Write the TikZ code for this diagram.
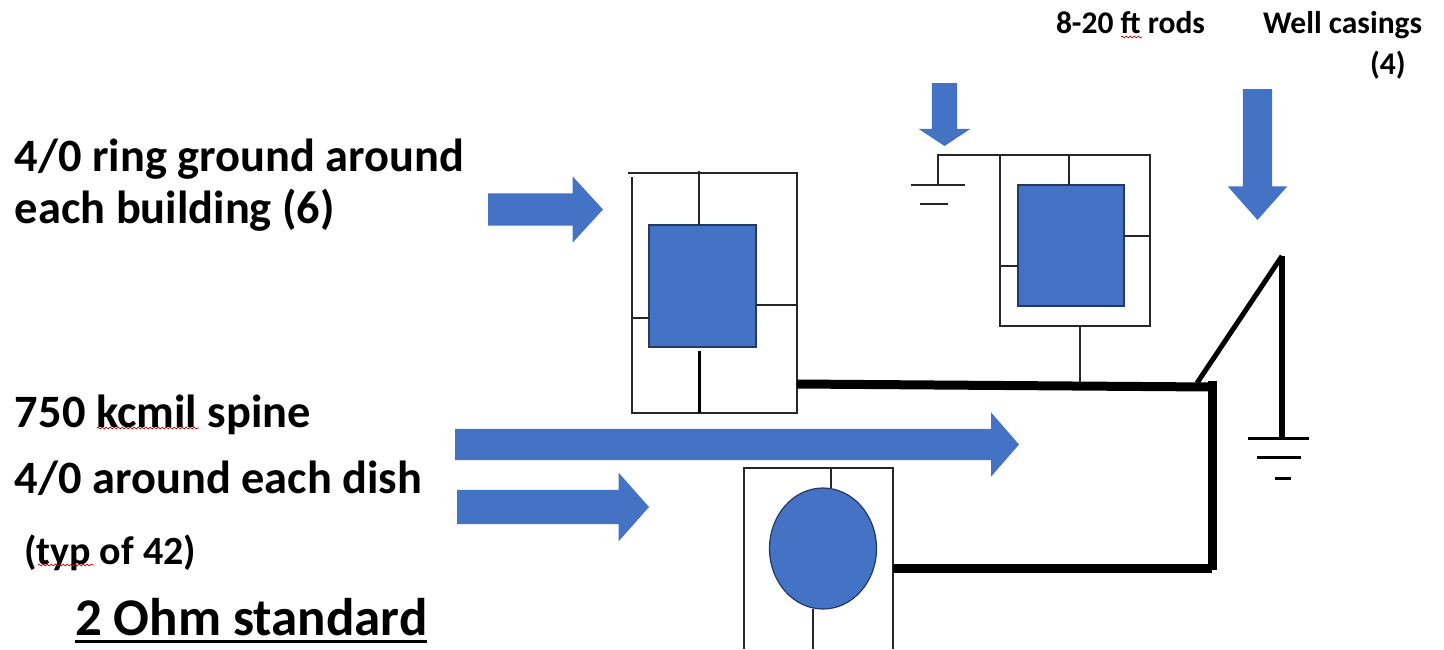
\documentclass[tikz,border=0pt]{standalone}
\usepackage{fontspec}
\setmainfont{Carlito}
\usepackage{xcolor}
\usetikzlibrary{shapes.arrows,shapes.geometric,decorations.pathmorphing}
\definecolor{dishblue}{HTML}{4472C4}
\definecolor{edgeblue}{HTML}{2F528F}

\begin{document}
\begin{tikzpicture}[x=1pt, y=-1pt]
	\tikzstyle{every node} = [inner sep=0pt, outer sep=0pt]
	\tikzstyle{bigtext} = [anchor=base west, font=\bfseries\fontsize{46.4}{50}\selectfont]
	\tikzstyle{typtext} = [anchor=base west, font=\bfseries\fontsize{40}{44}\selectfont]
	\tikzstyle{ohmtext} = [anchor=base west, font=\bfseries\fontsize{53}{58}\selectfont]
	\tikzstyle{toptext} = [anchor=base west, font=\bfseries\fontsize{31.5}{35}\selectfont]
	\tikzstyle{boxframe} = [draw=black!85, line width=1.2pt, shape=rectangle]
	\tikzstyle{building} = [draw=edgeblue!70!black, line width=1.2pt, fill=dishblue, shape=rectangle]
	\tikzstyle{wire} = [black!85, line width=1.2pt]
	\tikzstyle{bus} = [black, line width=9pt]
	\tikzstyle{pointer} = [shape=single arrow, fill=dishblue, single arrow head indent=0pt, anchor=tail]
	\tikzstyle{squiggle} = [red!75!black, line width=0.7pt, decorate, decoration={snake, amplitude=0.9pt, segment length=4pt}]
	\useasboundingbox (0,0) rectangle (1444,649);

	% texts
	\node[bigtext] (ring) at (15,171) {4/0 ring ground around};
	\node[bigtext] (each) at (15,223) {each building (6)};
	\node[bigtext] (spine) at (15,427) {750 kcmil spine};
	\node[bigtext] (around) at (15,493) {4/0 around each dish};
	\node[typtext] (typ) at (24,564) {(typ of 42)};
	\node[ohmtext] (ohm) at (75,635) {2 Ohm standard};
	\node[toptext] (rods) at (1056,33) {8-20 ft rods};
	\node[toptext] (well) at (1263,33) {Well casings};
	\node[toptext] (four) at (1370,74) {(4)};

	% spell check marks and underline
	\draw[squiggle] (97,428) -- (199,428);
	\draw[squiggle] (38,565) -- (94,565);
	\draw[squiggle] (1121,37) -- (1142,37);
	\draw[black, line width=3pt] ([yshift=-6pt]ohm.base west) -- ([yshift=-6pt]ohm.base east);

	% blue arrows
	\node[pointer, minimum height=115pt, minimum width=66pt, text height=32pt, single arrow head extend=17pt, single arrow tip angle=95] (a1) at (488,209.5) {};
	\node[pointer, minimum height=564pt, minimum width=64pt, text height=31pt, single arrow head extend=16.5pt, single arrow tip angle=98] (a2) at (455,444.5) {};
	\node[pointer, minimum height=192pt, minimum width=68pt, text height=34pt, single arrow head extend=17pt, single arrow tip angle=97] (a3) at (457,507) {};
	\node[pointer, minimum height=63pt, minimum width=51pt, text height=25pt, single arrow head extend=13pt, single arrow tip angle=113, rotate=-90] (a4) at (944.5,83) {};
	\node[pointer, minimum height=131pt, minimum width=59pt, text height=29pt, single arrow head extend=15pt, single arrow tip angle=83, rotate=-90] (a5) at (1257.5,89) {};

	% first building
	\coordinate (f1) at (628,173);
	\coordinate (f2) at (797,173);
	\coordinate (f3) at (797,413);
	\coordinate (f4) at (632,413);
	\coordinate (f5) at (632,177);
	\draw[wire] (f1) -- (f2) -- (f3) -- (f4) -- (f5);
	\node[building, minimum width=107pt, minimum height=122pt] (b1) at (702.5,286) {};
	\coordinate (s1) at (699,171);
	\coordinate (s2) at (699,351);
	\coordinate (s3) at (699,413);
	\draw[wire] (s1) -- (s1 |- b1.north);
	\draw[wire] (b1.east |- 0,305) -- (f2 |- 0,305);
	\draw[wire] (f4 |- 0,318) -- (b1.west |- 0,318);
	\draw[black, line width=3pt] (s2) -- (s3);

	% second building
	\node[boxframe, minimum width=150pt, minimum height=171pt] (f6) at (1075,240.5) {};
	\node[building, minimum width=106pt, minimum height=121pt] (b2) at (1071,245.5) {};
	\coordinate (s4) at (1069,155);
	\coordinate (s5) at (1080,382);
	\draw[wire] (s4) -- (s4 |- b2.north);
	\draw[wire] (b2.east |- 0,236) -- (f6.east |- 0,236);
	\draw[wire] (f6.west |- 0,266) -- (b2.west |- 0,266);
	\draw[wire] (s5 |- f6.south) -- (s5);

	% rod ground
	\coordinate (g1) at (938,155);
	\coordinate (g2) at (938,185);
	\draw[wire] (f6.north west) -- (g1) -- (g2);
	\draw[wire] (911,185) -- (965,185);
	\draw[wire] (920,204) -- (948,204);

	% dish
	\coordinate (d1) at (744,468);
	\coordinate (d2) at (893,468);
	\coordinate (d3) at (893,649);
	\coordinate (d4) at (744,649);
	\draw[wire] (d4) -- (d1) -- (d2) -- (d3);
	\node[building, shape=ellipse, minimum width=107pt, minimum height=121pt] (e1) at (823,548.5) {};
	\coordinate (s6) at (831,468);
	\coordinate (s7) at (813,649);
	\draw[wire] (s6) -- (s6 |- e1.north);
	\draw[wire] (s7 |- e1.south) -- (s7);

	% bus
	\coordinate (j1) at (1197,383);
	\coordinate (j2) at (1212,387);
	\coordinate (j3) at (1212,568);
	\draw[bus] (f3 |- 0,384) -- (j2);
	\draw[bus] (j2 |- 0,381) -- (j3 |- 0,570);
	\draw[bus] (d2 |- 0,568) -- (j3);

	% well casing
	\coordinate (w1) at (1282,256);
	\coordinate (w2) at (1282,437);
	\draw[black, line width=5pt] (j1) -- (w1);
	\draw[black, line width=6pt] (w1) -- (w2);
	\draw[black, line width=3pt] (1248,438) -- (1309,438);
	\draw[black, line width=3pt] (1257,457) -- (1301,457);
	\draw[black, line width=3pt] (1275,478) -- (1291,478);
\end{tikzpicture}
\end{document}
